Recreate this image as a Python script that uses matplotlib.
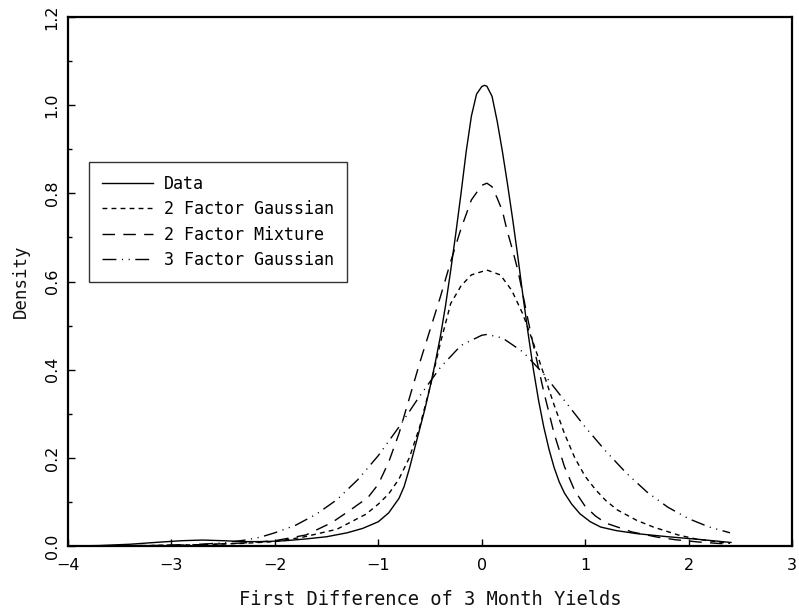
import matplotlib
matplotlib.use('Agg')
import matplotlib.pyplot as plt
import numpy as np

# values
data_x = [-4.0, -3.7, -3.4, -3.1, -2.9, -2.7, -2.5, -2.3, -2.1, -1.9, -1.7, -1.5, -1.3, -1.15,
          -1.0, -0.9, -0.8, -0.75, -0.7, -0.65, -0.6, -0.55, -0.5, -0.45, -0.4, -0.35, -0.3,
          -0.25, -0.2, -0.15, -0.1, -0.05, 0.0, 0.025, 0.05, 0.1, 0.15, 0.2, 0.25, 0.3, 0.35,
          0.4, 0.45, 0.5, 0.55, 0.6, 0.65, 0.7, 0.75, 0.8, 0.87, 0.95, 1.05, 1.15, 1.3, 1.5,
          1.8, 2.1, 2.41]
data_y = [0.0, 0.001, 0.004, 0.009, 0.012, 0.0135, 0.012, 0.010, 0.010, 0.012, 0.016, 0.021, 0.030, 0.040,
          0.055, 0.075, 0.108, 0.135, 0.175, 0.220, 0.265, 0.310, 0.360, 0.415, 0.475, 0.545, 0.625,
          0.710, 0.800, 0.895, 0.975, 1.025, 1.042, 1.045, 1.043, 1.020, 0.963, 0.895, 0.820, 0.740, 0.655,
          0.565, 0.480, 0.400, 0.330, 0.270, 0.220, 0.178, 0.145, 0.120, 0.095, 0.073, 0.055, 0.043, 0.035, 0.028,
          0.021, 0.015, 0.008]

gauss2_x = [-4.0, -3.2, -2.7, -2.3, -2.0, -1.73, -1.4, -1.12, -1.0, -0.9, -0.8, -0.7, -0.6, -0.5,
            -0.4, -0.3, -0.2, -0.1, 0.05, 0.18, 0.29, 0.4, 0.5, 0.6, 0.7, 0.8, 0.9, 1.0, 1.1, 1.2,
            1.31, 1.5, 1.66, 1.9, 2.09, 2.4]
gauss2_y = [0.0, 0.001, 0.003, 0.006, 0.010, 0.020, 0.038, 0.072, 0.095, 0.118, 0.152, 0.200, 0.270, 0.360,
            0.460, 0.550, 0.590, 0.615, 0.626, 0.615, 0.580, 0.525, 0.460, 0.390, 0.320, 0.255, 0.200, 0.158, 0.128, 0.103,
            0.082, 0.058, 0.043, 0.025, 0.015, 0.006]

mix2_x = [-4.0, -3.2, -2.7, -2.3, -2.0, -1.7, -1.45, -1.28, -1.1, -1.0, -0.9, -0.8, -0.7, -0.6, -0.5,
          -0.4, -0.3, -0.2, -0.1, 0.0, 0.05, 0.1, 0.148, 0.2, 0.245, 0.3, 0.35, 0.39, 0.45, 0.5, 0.6,
          0.7, 0.8, 0.9, 1.0, 1.1, 1.2, 1.45, 1.7, 1.88, 2.1, 2.4]
mix2_y = [0.0, 0.001, 0.003, 0.007, 0.012, 0.025, 0.053, 0.080, 0.110, 0.140, 0.190, 0.255, 0.335, 0.415, 0.490,
          0.565, 0.645, 0.720, 0.785, 0.818, 0.823, 0.815, 0.790, 0.760, 0.716, 0.670, 0.625, 0.580, 0.510, 0.455, 0.350,
          0.255, 0.180, 0.125, 0.090, 0.068, 0.052, 0.032, 0.020, 0.014, 0.009, 0.004]

gauss3_x = [-4.0, -3.2, -2.8, -2.5, -2.3, -2.14, -2.0, -1.8, -1.6, -1.4, -1.2, -1.0, -0.8, -0.6,
            -0.4, -0.2, 0.0, 0.05, 0.2, 0.4, 0.6, 0.8, 1.0, 1.2, 1.4, 1.6, 1.8, 2.0, 2.2, 2.4]
gauss3_y = [0.0, 0.001, 0.003, 0.007, 0.013, 0.020, 0.030, 0.047, 0.072, 0.105, 0.150, 0.205, 0.270, 0.340,
            0.405, 0.455, 0.478, 0.480, 0.472, 0.440, 0.390, 0.330, 0.270, 0.215, 0.165, 0.122, 0.088, 0.062, 0.043, 0.030]

labels = ['Data', '2 Factor Gaussian', '2 Factor Mixture', '3 Factor Gaussian']

plt.rcParams['font.family'] = 'DejaVu Sans'
wide = 'DejaVu Sans Mono'

fig = plt.figure(figsize=(7.99, 6.15), dpi=100, facecolor='white')
ax = fig.add_axes([68 / 799, 69 / 615, 724 / 799, 529 / 615])

ax.plot(data_x, data_y, color='black', lw=1.0, linestyle='-', label=labels[0])
ax.plot(gauss2_x, gauss2_y, color='black', lw=1.0, linestyle=(0, (3.5, 3)), label=labels[1])
ax.plot(mix2_x, mix2_y, color='black', lw=1.0, linestyle=(0, (9, 6)), label=labels[2])
ax.plot(gauss3_x, gauss3_y, color='black', lw=1.0, linestyle=(0, (10, 4, 0.8, 4, 0.8, 4)), label=labels[3])

ax.set_xlim(-4, 3)
ax.set_ylim(0, 1.2)
ax.set_xticks(np.arange(-4, 4, 1))
ax.set_xticklabels(['\u22124', '\u22123', '\u22122', '\u22121', '0', '1', '2', '3'])
ax.set_yticks(np.arange(0, 1.21, 0.2))
ax.set_yticklabels(['0.0', '0.2', '0.4', '0.6', '0.8', '1.0', '1.2'], rotation=90, va='center')
ax.set_yticks(np.arange(0, 1.21, 0.1), minor=True)

ax.tick_params(axis='both', which='major', direction='in', length=5, width=1, labelsize=11.5, color='black')
ax.tick_params(axis='x', pad=9)
ax.tick_params(axis='y', pad=6)
ax.tick_params(axis='y', which='minor', direction='in', length=3, width=1)
for s in ax.spines.values():
    s.set_linewidth(1.6)

ax.set_xlabel('First Difference of 3 Month Yields', fontsize=13.5, family=wide, labelpad=12,
              color='#111111')
ax.set_ylabel('Density', fontsize=12.5, family=wide, labelpad=11, color='#111111')

leg = ax.legend(loc='upper left', bbox_to_anchor=(0.029, 0.726), borderaxespad=0, fancybox=False,
                edgecolor='#333333', framealpha=1, prop={'family': wide, 'size': 12},
                handlelength=3.05, handletextpad=0.66, labelspacing=0.44, borderpad=0.78)
leg.get_frame().set_linewidth(1.0)

plt.savefig('out.png', dpi=100)
